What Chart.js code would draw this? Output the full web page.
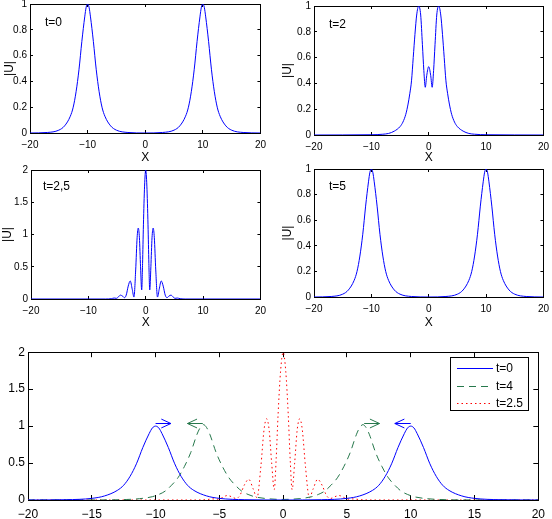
<!DOCTYPE html>
<html>
<head>
<meta charset="utf-8">
<script src="https://cdn.jsdelivr.net/npm/chart.js@4.4.0/dist/chart.umd.min.js"></script>
<style>
  html, body { margin: 0; padding: 0; background: #fff; }
  #wrap { position: relative; width: 552px; height: 519px; overflow: hidden; }
  #wrap canvas { position: absolute; }
</style>
</head>
<body>
<div id="wrap"></div>
<script>
// |U| at t=0 (same shape again at t=5 and in the bottom plot)
const xT0 = [-20, -17, -15, -14, -13, -12.5, -12, -11.5, -11, -10.5, -10.25, -10, -9.75, -9.5, -9, -8.5, -8, -7.5, -7, -6, -5, -3,
  0, 3, 5, 6, 7, 7.5, 8, 8.5, 9, 9.5, 9.75, 10, 10.25, 10.5, 11, 11.5, 12, 12.5, 13, 14, 15, 17, 20];
const yT0 = [0, 0.004, 0.022, 0.055, 0.13, 0.2, 0.32, 0.49, 0.71, 0.9, 0.975, 1, 0.975, 0.9, 0.71, 0.49, 0.32, 0.2, 0.13, 0.055, 0.022, 0.004,
  0, 0.004, 0.022, 0.055, 0.13, 0.2, 0.32, 0.49, 0.71, 0.9, 0.975, 1, 0.975, 0.9, 0.71, 0.49, 0.32, 0.2, 0.13, 0.055, 0.022, 0.004, 0];

// t=2
const xT2 = [-20, -10, -8, -7, -6, -5, -4.5, -4, -3.6, -3.3, -3, -2.7, -2.4, -2.1, -1.75, -1.4, -1.1, -0.85, -0.6, -0.35,
  0, 0.35, 0.6, 0.85, 1.1, 1.4, 1.75, 2.1, 2.4, 2.7, 3, 3.3, 3.6, 4, 4.5, 5, 6, 7, 8, 10, 20];
const yT2 = [0, 0.002, 0.006, 0.012, 0.03, 0.065, 0.1, 0.16, 0.24, 0.32, 0.42, 0.6, 0.78, 0.93, 1, 0.93, 0.7, 0.5, 0.37, 0.46,
  0.53, 0.46, 0.37, 0.5, 0.7, 0.93, 1, 0.93, 0.78, 0.6, 0.42, 0.32, 0.24, 0.16, 0.1, 0.065, 0.03, 0.012, 0.006, 0.002, 0];

// t=2.5 (collision)
const xT25 = [-20, -7, -6, -5.5, -5.1, -4.8, -4.4, -4.05, -3.7, -3.4, -3.05, -2.7, -2.35, -2.05, -1.75, -1.5, -1.3, -1.1, -0.9, -0.7, -0.55, -0.4, -0.2,
  0, 0.2, 0.4, 0.55, 0.7, 0.9, 1.1, 1.3, 1.5, 1.75, 2.05, 2.35, 2.7, 3.05, 3.4, 3.7, 4.05, 4.4, 4.8, 5.1, 5.5, 6, 7, 20];
const yT25 = [0, 0, 0.005, 0.015, 0.01, 0.03, 0.06, 0.045, 0.02, 0.06, 0.2, 0.28, 0.15, 0.03, 0.45, 0.95, 1.1, 0.95, 0.5, 0.14, 0.55, 1.15, 1.75,
  2, 1.75, 1.15, 0.55, 0.14, 0.5, 0.95, 1.1, 0.95, 0.45, 0.03, 0.15, 0.28, 0.2, 0.06, 0.02, 0.045, 0.06, 0.03, 0.01, 0.015, 0.005, 0, 0];

// t=4 (bottom plot, dashed)
const xT4 = [-20, -14.25, -12.25, -11.25, -10.25, -9.75, -9.25, -8.75, -8.25, -7.75, -7.25, -6.75, -6.5, -6.25, -6, -5.75, -5.25, -4.75, -4.25, -3.75, -3.25, -2.75, -2.25, -1.25,
  0, 1.25, 2.25, 2.75, 3.25, 3.75, 4.25, 4.75, 5.25, 5.75, 6, 6.25, 6.5, 6.75, 7.25, 7.75, 8.25, 8.75, 9.25, 9.75, 10.25, 11.25, 12.25, 14.25, 20];
const yT4 = [0, 0.001, 0.007, 0.018, 0.045, 0.075, 0.12, 0.2, 0.3, 0.45, 0.64, 0.89, 0.98, 1.02, 0.98, 0.89, 0.64, 0.45, 0.3, 0.2, 0.12, 0.075, 0.045, 0.018,
  0.008, 0.018, 0.045, 0.075, 0.12, 0.2, 0.3, 0.45, 0.64, 0.89, 0.98, 1.02, 0.98, 0.89, 0.64, 0.45, 0.3, 0.2, 0.12, 0.075, 0.045, 0.018, 0.007, 0.001, 0];

// direction arrows in the bottom plot (null = pen up)
const arrowBlueLeftX = [-9.55, -8.8, -9.55, -8.8, -10, -8.8];
const arrowBlueRightX = [9.5, 8.75, 9.5, 8.75, 10, 8.75];
const arrowGreenLeftX = [-6.75, -7.5, -6.75, -7.5, -6.3, -7.5];
const arrowGreenRightX = [6.8, 7.55, 6.8, 7.55, 6.35, 7.55];
const arrowY = [1.095, 1.035, 0.975, null, 1.035, 1.035];

const smallXTicks = [-20, -10, 0, 10, 20];
const unitYTicks = [0, 0.2, 0.4, 0.6, 0.8, 1];
const halfYTicks = [0, 0.5, 1, 1.5, 2];
const bigXTicks = [-20, -15, -10, -5, 0, 5, 10, 15, 20];
const tags = ['t=0', 't=2', 't=2,5', 't=5'];
const legendLabels = ['t=0', 't=4', 't=2.5'];

const BLUE = '#0000ff', GREEN = '#27784c', RED = '#ff0000';
const FONT = "'Liberation Sans', Arial, Helvetica, sans-serif";
Chart.defaults.font.family = FONT;
Chart.defaults.color = '#000';

const pts = (xs, ys) => xs.map((x, i) => ({ x, y: ys[i] }));
const minus = v => String(v).replace('-', '\u2212');

// panel tag and legend box (frame and ticks come from the axes themselves)
function notePlugin(cfg) {
  return {
    id: 'note',
    afterDraw(chart) {
      const a = chart.chartArea, ctx = chart.ctx;
      ctx.save();
      ctx.fillStyle = '#000';
      ctx.font = '12px ' + FONT;
      ctx.textBaseline = 'middle';
      if (cfg.tag) ctx.fillText(cfg.tag, a.left + cfg.tagDx, a.top + cfg.tagDy);
      if (cfg.legend) {
        const w = 79, h = 54, bx = Math.round(a.right - 9 - w), by = Math.round(a.top + 5);
        ctx.fillStyle = '#fff';
        ctx.fillRect(bx, by, w, h);
        ctx.fillStyle = '#000';
        ctx.fillRect(bx, by, w, 1);
        ctx.fillRect(bx, by + h - 1, w, 1);
        ctx.fillRect(bx, by, 1, h);
        ctx.fillRect(bx + w - 1, by, 1, h);
        ctx.lineWidth = 1;
        chart.data.datasets.filter(d => d.label).forEach((d, i) => {
          const ry = Math.round(by + 11 + i * 17.5) + 0.5;
          ctx.strokeStyle = d.borderColor;
          ctx.setLineDash(d.borderDash || []);
          ctx.beginPath();
          ctx.moveTo(bx + 7, ry); ctx.lineTo(bx + 43, ry);
          ctx.stroke();
          ctx.setLineDash([]);
          ctx.fillStyle = '#000';
          ctx.fillText(d.label, bx + 46, ry);
        });
      }
      ctx.restore();
    }
  };
}

const YW = 40, PT = 12, PR = 12;
const wrap = document.getElementById('wrap');

// an axis edge: black border plus inward tick marks
function edge(ticks, len, extra) {
  return Object.assign({
    type: 'linear', min: ticks[0], max: ticks[ticks.length - 1],
    border: { display: true, color: '#000', width: 1 },
    grid: { display: true, drawOnChartArea: false, drawTicks: true, tickLength: -len, color: '#000', tickColor: '#000', lineWidth: 1 },
    afterBuildTicks: s => { s.ticks = ticks.map(v => ({ value: v })); }
  }, extra);
}

function makePanel(p) {
  const c = document.createElement('canvas');
  c.width = (p.area.r - p.area.l) + YW + PR;
  c.height = (p.area.b - p.area.t) + PT + p.xh;
  c.style.left = (p.area.l - YW) + 'px';
  c.style.top = (p.area.t - PT) + 'px';
  wrap.appendChild(c);

  const tickFont = { size: p.fs, family: FONT };
  const titleFont = { size: 12, family: FONT };
  new Chart(c, {
    type: 'line',
    data: { datasets: p.datasets },
    options: {
      responsive: false,
      animation: false,
      devicePixelRatio: 1,
      layout: { padding: { top: PT, right: PR, left: 0, bottom: 0 } },
      scales: {
        x: edge(p.xTicks, p.tickLen, {
          position: 'bottom',
          afterFit: s => { s.height = p.xh; },
          ticks: { font: tickFont, padding: p.xPad + p.tickLen, maxRotation: 0, autoSkip: false, callback: minus },
          title: p.xTitleY ? {
            display: true, text: 'X', font: titleFont,
            padding: { top: 0, bottom: p.area.b + p.xh - 7.2 - p.xTitleY }
          } : { display: false }
        }),
        x2: edge(p.xTicks, p.tickLen, {
          position: 'top', axis: 'x',
          afterFit: s => { s.height = 0; },
          ticks: { display: false }
        }),
        y: edge(p.yTicks, p.tickLen, {
          position: 'left',
          afterFit: s => { s.width = YW; },
          ticks: { font: tickFont, padding: 3 + p.tickLen, autoSkip: false, callback: minus },
          title: p.yTitleX ? {
            display: true, text: '|U|', font: titleFont,
            padding: { top: p.yTitleX - (p.area.l - YW) - 7.2, bottom: 0 }
          } : { display: false }
        }),
        y2: edge(p.yTicks, p.tickLen, {
          position: 'right', axis: 'y',
          afterFit: s => { s.width = 0; },
          ticks: { display: false }
        })
      },
      plugins: { legend: { display: false }, tooltip: { enabled: false } }
    },
    plugins: [notePlugin(p)]
  });
}

const curve = (xs, ys, color, extra) => Object.assign({
  data: pts(xs, ys), borderColor: color, borderWidth: 1, pointRadius: 0, fill: false, cubicInterpolationMode: 'monotone'
}, extra || {});
const arrow = (xs, color) => ({
  data: pts(xs, arrowY), borderColor: color, borderWidth: 1, pointRadius: 0, fill: false, tension: 0, spanGaps: false
});

const small = { xTicks: smallXTicks, fs: 10, xh: 34, xPad: 6, tickLen: 3 };

makePanel(Object.assign({}, small, {
  area: { l: 30, t: 4, r: 263, b: 133 }, yTicks: unitYTicks, xTitleY: 158, yTitleX: 10,
  tag: tags[0], tagDx: 15, tagDy: 19, datasets: [curve(xT0, yT0, BLUE)]
}));
makePanel(Object.assign({}, small, {
  area: { l: 314, t: 6, r: 546, b: 135 }, yTicks: unitYTicks, xTitleY: 158, yTitleX: 288,
  tag: tags[1], tagDx: 15, tagDy: 19, datasets: [curve(xT2, yT2, BLUE)]
}));
makePanel(Object.assign({}, small, {
  area: { l: 31, t: 170, r: 263, b: 299 }, yTicks: halfYTicks, xTitleY: 323, yTitleX: 8,
  tag: tags[2], tagDx: 12, tagDy: 17, datasets: [curve(xT25, yT25, BLUE)]
}));
makePanel(Object.assign({}, small, {
  area: { l: 314, t: 169, r: 546, b: 297 }, yTicks: unitYTicks, xTitleY: 323, yTitleX: 288,
  tag: tags[3], tagDx: 15, tagDy: 18, datasets: [curve(xT0, yT0, BLUE)]
}));
makePanel({
  area: { l: 28, t: 349, r: 545, b: 500 }, xTicks: bigXTicks, yTicks: halfYTicks,
  fs: 12, xh: 22, xPad: 7, tickLen: 5, legend: true,
  datasets: [
    curve(xT0, yT0, BLUE, { label: legendLabels[0] }),
    curve(xT4, yT4, GREEN, { label: legendLabels[1], borderDash: [7, 5] }),
    curve(xT25, yT25, RED, { label: legendLabels[2], borderDash: [1.5, 3] }),
    arrow(arrowBlueLeftX, BLUE),
    arrow(arrowBlueRightX, BLUE),
    arrow(arrowGreenLeftX, GREEN),
    arrow(arrowGreenRightX, GREEN)
  ]
});
</script>
</body>
</html>
